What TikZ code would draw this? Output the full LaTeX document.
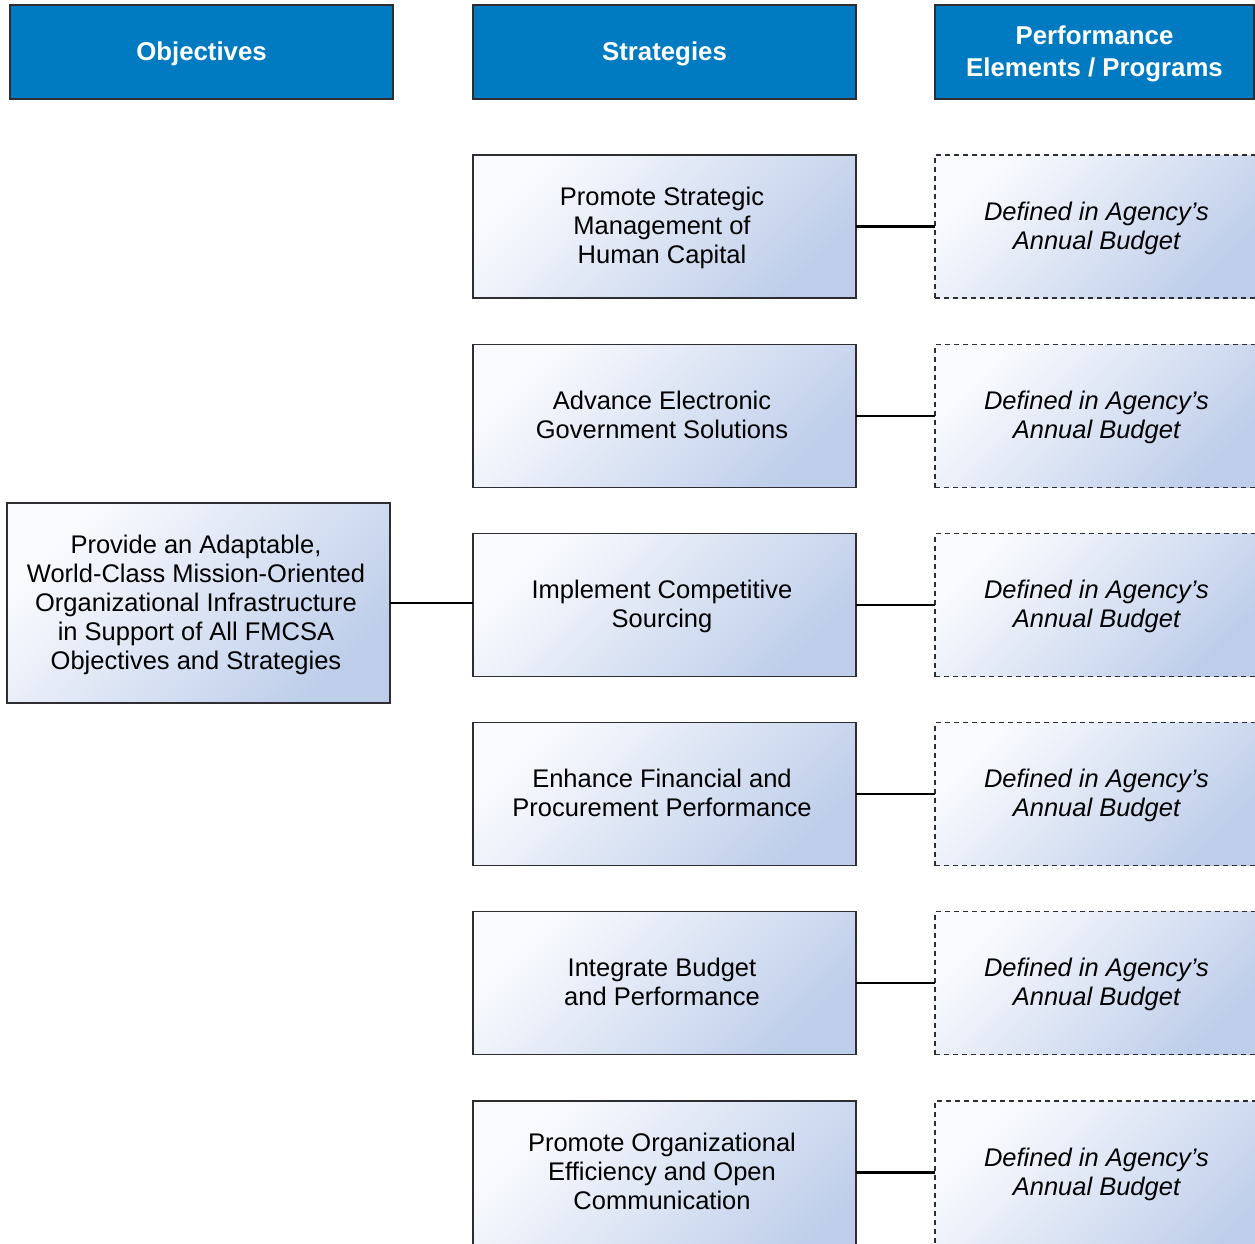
\documentclass[tikz,border=0pt]{standalone}
\usepackage{fontspec}
\setmainfont{Liberation Sans}
\definecolor{hdrblue}{RGB}{0,123,193}
\definecolor{boxlight}{RGB}{250,251,254}
\definecolor{boxdark}{RGB}{190,206,234}
\definecolor{edge}{RGB}{45,45,50}
% centred text block, lowered a little (optional shift) inside its box
\newcommand\blocktext[2][-2.5pt]{\raisebox{#1}[\height][\depth]{\begin{tabular}{@{}c@{}}#2\end{tabular}}}
% same, nudged slightly left, for the solid boxes
\newcommand\solidtext[2][-2.5pt]{\kern-5pt\blocktext[#1]{#2}}
\tikzset{
  hdr/.style={draw=edge, line width=1.4pt, fill=hdrblue, text=white,
    font=\fontsize{25.8}{32}\selectfont\bfseries,
    inner sep=0pt, outer sep=0pt, minimum height=94pt},
  gradbox/.style={top color=boxlight, bottom color=boxdark, shading angle=45,
    font=\fontsize{25.5}{29}\selectfont,
    inner sep=0pt, outer sep=0pt, minimum height=143pt},
  solidbox/.style={gradbox, draw=edge, line width=1.4pt, minimum width=383pt},
  budgetbox/.style={gradbox, draw=edge, line width=1.1pt, dash pattern=on 5pt off 4pt,
    minimum width=323pt, font=\fontsize{25.5}{29}\selectfont\itshape},
  openbox/.style={minimum height=180pt},
  link/.style={line width=2.8pt, black}
}
\begin{document}
\begin{tikzpicture}[x=1pt,y=-1pt]
\useasboundingbox (0,0) rectangle (1255,1243);
\clip (0,0) rectangle (1255,1243);

% column headers
\node[hdr, minimum width=383pt] (hobj)  at (201.5,52) {\blocktext{Objectives}};
\node[hdr, minimum width=383pt] (hstr)  at (664.5,52) {\blocktext{Strategies}};
\node[hdr, minimum width=319pt] (hperf) at (1094.5,52) {\blocktext{Performance\\Elements / Programs}};

% objective
\node[solidbox, minimum height=200pt] (obj) at (198.5,603)
  {\solidtext{Provide an Adaptable,\\World-Class Mission-Oriented\\Organizational Infrastructure\\in Support of All FMCSA\\Objectives and Strategies}};

% strategies
\node[solidbox] (s1) at (664.5,226.5) {\solidtext{Promote Strategic\\Management of\\Human Capital}};
\node[solidbox] (s2) at (664.5,416)   {\solidtext{Advance Electronic\\Government Solutions}};
\node[solidbox] (s3) at (664.5,605)   {\solidtext{Implement Competitive\\Sourcing}};
\node[solidbox] (s4) at (664.5,794)   {\solidtext{Enhance Financial and\\Procurement Performance}};
\node[solidbox] (s5) at (664.5,983)   {\solidtext{Integrate Budget\\and Performance}};
% the last row runs past the lower edge
\node[solidbox, openbox] (s6) at (664.5,1191) {\solidtext[16pt]{Promote Organizational\\Efficiency and Open\\Communication}};

% performance elements
\foreach \i/\y in {1/226.5,2/416,3/605,4/794,5/983}{
  \node[budgetbox] (p\i) at (1096.5,\y) {\blocktext{Defined in Agency’s\\Annual Budget}};
}
\node[budgetbox, openbox] (p6) at (1096.5,1191) {\blocktext[16pt]{Defined in Agency’s\\Annual Budget}};

% connectors
\draw[link] (obj.east) -- (obj.east -| s3.west);
\foreach \i in {1,...,5}{
  \draw[link] (s\i.east) -- (p\i.west);
}
\draw[link] ([yshift=-71.5pt]s6.north east) -- ([yshift=-71.5pt]p6.north west);
\end{tikzpicture}
\end{document}
